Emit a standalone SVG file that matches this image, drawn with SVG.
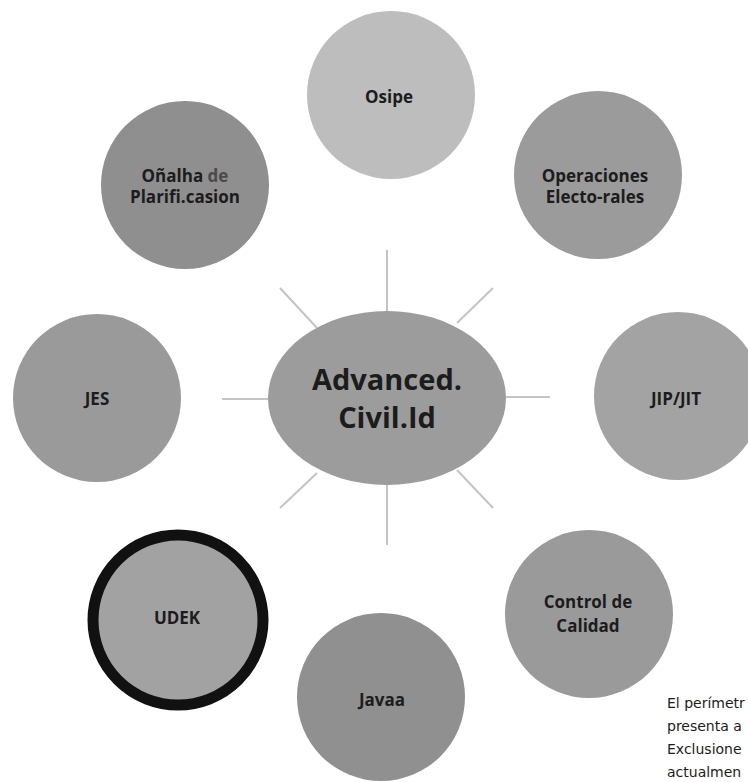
<svg xmlns="http://www.w3.org/2000/svg" width="748" height="782" viewBox="0 0 748 782">
  <style>
    .node { stroke: none; }
    .lbl { font-family: "Open Sans", "Liberation Sans", sans-serif; font-weight: bold; font-size: 17px; fill: #1c1c1c; text-anchor: middle; }
    .big { font-family: "Open Sans", "Liberation Sans", sans-serif; font-weight: bold; font-size: 29px; fill: #1c1c1c; text-anchor: middle; }
    .ray { stroke: #c4c4c4; stroke-width: 2; fill: none; }
    .note { font-family: "DejaVu Sans", "Noto Sans", sans-serif; font-size: 14px; fill: #1c1c1c; }
  </style>
  <rect width="748" height="782" fill="#ffffff"/>

  <g id="connectors">
    <line class="ray" x1="387" y1="250" x2="387" y2="312"/>
    <line class="ray" x1="387" y1="485" x2="387" y2="545"/>
    <line class="ray" x1="222" y1="399" x2="268" y2="399"/>
    <line class="ray" x1="506" y1="397" x2="550" y2="397"/>
    <line class="ray" x1="280" y1="288" x2="317" y2="328"/>
    <line class="ray" x1="493" y1="288" x2="457" y2="323"/>
    <line class="ray" x1="280" y1="508" x2="317" y2="473"/>
    <line class="ray" x1="457" y1="470" x2="493" y2="508"/>
  </g>

  <g id="center">
    <ellipse class="node" cx="387" cy="398" rx="119" ry="87" fill="#9c9c9c"/>
    <text class="big" x="387" y="390">Advanced.</text>
    <text class="big" x="387" y="428">Civil.Id</text>
  </g>

  <g id="osipe">
    <circle class="node" cx="391" cy="95" r="84" fill="#bdbdbd"/>
    <text class="lbl" x="389" y="103">Osipe</text>
  </g>

  <g id="oficina">
    <circle class="node" cx="185" cy="185" r="84" fill="#8f8f8f"/>
    <text class="lbl" x="185" y="182">Oñalha <tspan fill="#4a4a4a">de</tspan></text>
    <text class="lbl" x="185" y="203">Plarifi.casion</text>
  </g>

  <g id="operaciones">
    <circle class="node" cx="598" cy="175" r="84" fill="#9b9b9b"/>
    <text class="lbl" x="595" y="182">Operaciones</text>
    <text class="lbl" x="595" y="203">Electo-rales</text>
  </g>

  <g id="jipjit">
    <circle class="node" cx="678" cy="396" r="84" fill="#a3a3a3"/>
    <text class="lbl" x="676" y="405">JIP/JIT</text>
  </g>

  <g id="jes">
    <circle class="node" cx="97" cy="398" r="84" fill="#9a9a9a"/>
    <text class="lbl" x="97" y="405">JES</text>
  </g>

  <g id="control">
    <circle class="node" cx="589" cy="614" r="84" fill="#9a9a9a"/>
    <text class="lbl" x="588" y="608">Control de</text>
    <text class="lbl" x="588" y="632">Calidad</text>
  </g>

  <g id="javaa">
    <circle class="node" cx="381" cy="697" r="84" fill="#909090"/>
    <text class="lbl" x="382" y="706">Javaa</text>
  </g>

  <g id="udek">
    <circle cx="178" cy="620" r="85" fill="#a2a2a2" stroke="#111111" stroke-width="11"/>
    <text class="lbl" x="177" y="624">UDEK</text>
  </g>

  <g id="note">
    <text class="note" x="667" y="708">El perímetr</text>
    <text class="note" x="667" y="731">presenta a</text>
    <text class="note" x="667" y="754">Exclusione</text>
    <text class="note" x="667" y="777">actualmen</text>
  </g>
</svg>
